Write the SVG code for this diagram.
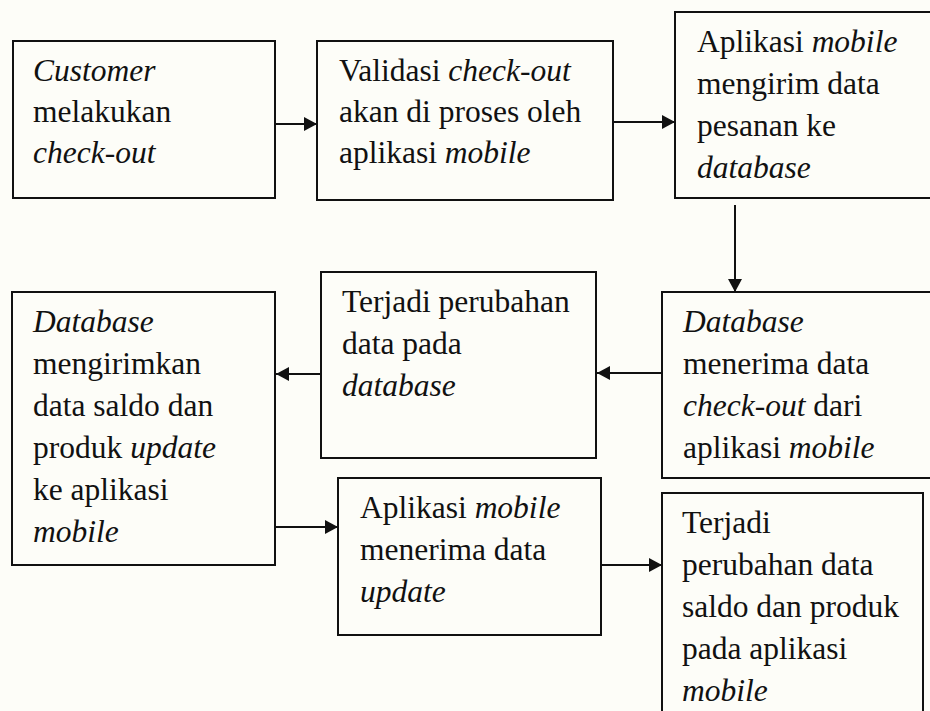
<svg xmlns="http://www.w3.org/2000/svg" width="930" height="711" viewBox="0 0 930 711">
  <style>
    .box { fill: none; stroke: #111; stroke-width: 2; }
    .txt { font-family: "Liberation Serif", "Times New Roman", serif; font-size: 31.5px; fill: #111; }
    .it { font-style: italic; }
    .conn { stroke: #111; stroke-width: 2; fill: none; marker-end: url(#arrow); }
  </style>
  <defs>
    <marker id="arrow" markerUnits="userSpaceOnUse" markerWidth="14" markerHeight="14" refX="13" refY="7" orient="auto">
      <path d="M0,0 L13,7 L0,14 Z" fill="#111"/>
    </marker>
  </defs>
  <rect width="930" height="711" fill="#fdfdf8"/>

  <g id="connectors">
    <line class="conn" x1="276" y1="124" x2="317" y2="124"/>
    <line class="conn" x1="614" y1="122" x2="675" y2="122"/>
    <line class="conn" x1="735" y1="205" x2="735" y2="292"/>
    <line class="conn" x1="662" y1="373" x2="597" y2="373"/>
    <line class="conn" x1="321" y1="374" x2="276" y2="374"/>
    <line class="conn" x1="276" y1="527" x2="338" y2="527"/>
    <line class="conn" x1="602" y1="565" x2="662" y2="565"/>
  </g>

  <g id="customer-checkout">
    <rect class="box" x="13" y="41" width="262" height="157"/>
    <text class="txt" x="33" y="81"><tspan class="it">Customer</tspan></text>
    <text class="txt" x="33" y="122">melakukan</text>
    <text class="txt" x="33" y="163"><tspan class="it">check-out</tspan></text>
  </g>

  <g id="validasi">
    <rect class="box" x="317" y="41" width="296" height="159"/>
    <text class="txt" x="339" y="81">Validasi <tspan class="it">check-out</tspan></text>
    <text class="txt" x="339" y="122">akan di proses oleh</text>
    <text class="txt" x="339" y="163">aplikasi <tspan class="it">mobile</tspan></text>
  </g>

  <g id="kirim-pesanan">
    <rect class="box" x="675" y="12" width="270" height="186"/>
    <text class="txt" x="697" y="52">Aplikasi <tspan class="it">mobile</tspan></text>
    <text class="txt" x="697" y="94">mengirim data</text>
    <text class="txt" x="697" y="136">pesanan ke</text>
    <text class="txt" x="697" y="178"><tspan class="it">database</tspan></text>
  </g>

  <g id="db-terima">
    <rect class="box" x="662" y="292" width="280" height="186"/>
    <text class="txt" x="683" y="332"><tspan class="it">Database</tspan></text>
    <text class="txt" x="683" y="374">menerima data</text>
    <text class="txt" x="683" y="416"><tspan class="it">check-out</tspan> dari</text>
    <text class="txt" x="683" y="458">aplikasi <tspan class="it">mobile</tspan></text>
  </g>

  <g id="perubahan-db">
    <rect class="box" x="321" y="272" width="275" height="186"/>
    <text class="txt" x="342" y="312">Terjadi perubahan</text>
    <text class="txt" x="342" y="354">data pada</text>
    <text class="txt" x="342" y="396"><tspan class="it">database</tspan></text>
  </g>

  <g id="db-kirim-update">
    <rect class="box" x="12" y="292" width="263" height="273"/>
    <text class="txt" x="33" y="332"><tspan class="it">Database</tspan></text>
    <text class="txt" x="33" y="374">mengirimkan</text>
    <text class="txt" x="33" y="416">data saldo dan</text>
    <text class="txt" x="33" y="458">produk <tspan class="it">update</tspan></text>
    <text class="txt" x="33" y="500">ke aplikasi</text>
    <text class="txt" x="33" y="542"><tspan class="it">mobile</tspan></text>
  </g>

  <g id="terima-update">
    <rect class="box" x="338" y="478" width="263" height="157"/>
    <text class="txt" x="360" y="518">Aplikasi <tspan class="it">mobile</tspan></text>
    <text class="txt" x="360" y="560">menerima data</text>
    <text class="txt" x="360" y="602"><tspan class="it">update</tspan></text>
  </g>

  <g id="perubahan-app">
    <rect class="box" x="662" y="493" width="261" height="230"/>
    <text class="txt" x="682" y="533">Terjadi</text>
    <text class="txt" x="682" y="575">perubahan data</text>
    <text class="txt" x="682" y="617">saldo dan produk</text>
    <text class="txt" x="682" y="659">pada aplikasi</text>
    <text class="txt" x="682" y="701"><tspan class="it">mobile</tspan></text>
  </g>
</svg>
